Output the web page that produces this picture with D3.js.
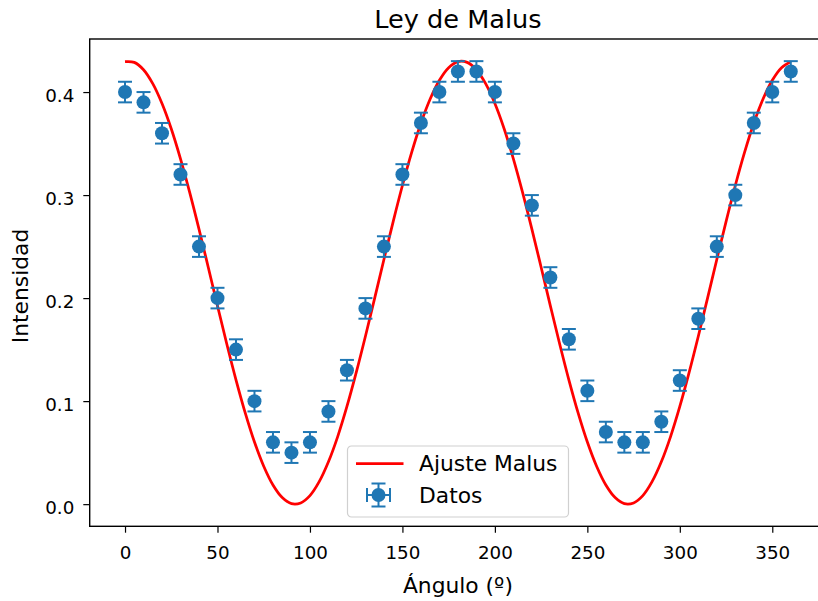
<!DOCTYPE html>
<html>
<head>
<meta charset="utf-8">
<script src="https://cdn.jsdelivr.net/npm/d3@7"></script>
<style>
  body { margin: 0; background: #fff; }
  svg { font-family: "DejaVu Sans", sans-serif; }
</style>
</head>
<body>
<div id="chart"></div>
<script>
// measured data (Datos)
const angles = [0, 10, 20, 30, 40, 50, 60, 70, 80, 90, 100, 110, 120, 130, 140, 150, 160, 170, 180,
  190, 200, 210, 220, 230, 240, 250, 260, 270, 280, 290, 300, 310, 320, 330, 340, 350, 360];
const intensities = [0.40, 0.39, 0.36, 0.32, 0.25, 0.20, 0.15, 0.10, 0.06, 0.05, 0.06, 0.09, 0.13, 0.19, 0.25, 0.32, 0.37, 0.40, 0.42,
  0.42, 0.40, 0.35, 0.29, 0.22, 0.16, 0.11, 0.07, 0.06, 0.06, 0.08, 0.12, 0.18, 0.25, 0.30, 0.37, 0.40, 0.42];
const yErr = 0.01;
const xErr = 1;

const fitAngles = d3.range(0, 361, 5);
const fitHalf = [0.4295, 0.4288, 0.4217, 0.4082, 0.3889, 0.3644, 0.3352, 0.3024, 0.2670, 0.2300,
  0.1925, 0.1557, 0.1207, 0.0886, 0.0603, 0.0368, 0.0186, 0.0064, 0.0005, 0.0012,
  0.0083, 0.0218, 0.0411, 0.0656, 0.0948, 0.1276, 0.1630, 0.2000, 0.2375, 0.2743,
  0.3093, 0.3414, 0.3697, 0.3932, 0.4114, 0.4236];
const fitValues = fitHalf.concat(fitHalf, [0.4295]);

const xTicks = [0, 50, 100, 150, 200, 250, 300, 350];
const yTicks = [0.0, 0.1, 0.2, 0.3, 0.4];

const W = 818, H = 601;
const axLeft = 89.7, axRight = 826.1, axTop = 39, axBottom = 526.3;
const blue = "#1f77b4";

const svg = d3.select("#chart").append("svg")
  .attr("width", W)
  .attr("height", H);

// matplotlib style 5% margins
const xMin = d3.min(angles) - xErr, xMax = d3.max(angles) + xErr;
const xPad = (xMax - xMin) * 0.05;
const x = d3.scaleLinear().domain([xMin - xPad, xMax + xPad]).range([axLeft, axRight]);

const yMin = 0, yMax = 0.43;
const yPad = (yMax - yMin) * 0.05;
const y = d3.scaleLinear().domain([yMin - yPad, yMax + yPad]).range([axBottom, axTop]);

// axes
const xAxis = svg.append("g")
  .attr("transform", `translate(0,${axBottom})`)
  .call(d3.axisBottom(x).tickValues(xTicks).tickSize(6.4).tickPadding(7).tickFormat(d3.format("d")));
const yAxis = svg.append("g")
  .attr("transform", `translate(${axLeft},0)`)
  .call(d3.axisLeft(y).tickValues(yTicks).tickSize(6.4).tickPadding(9).tickFormat(d3.format(".1f")));

[xAxis, yAxis].forEach(a => {
  a.select(".domain").remove();
  a.selectAll(".tick line").attr("stroke", "#000").attr("stroke-width", 1.2);
  a.selectAll(".tick text").attr("fill", "#000").style("font-size", "18.3px").style("font-family", "DejaVu Sans");
});
xAxis.selectAll(".tick text").attr("y", 33).attr("dy", 0);
yAxis.selectAll(".tick text").attr("dy", 9);

// fit line
const line = d3.line()
  .x((d, i) => x(fitAngles[i]))
  .y(d => y(d))
  .curve(d3.curveCatmullRom);

svg.append("path")
  .datum(fitValues)
  .attr("d", line)
  .attr("fill", "none")
  .attr("stroke", "red")
  .attr("stroke-width", 2.75);

// error bars
const pts = angles.map((a, i) => ({ a, v: intensities[i] }));
const eb = svg.append("g").selectAll("g").data(pts).enter().append("g");
eb.append("line")
  .attr("x1", d => x(d.a)).attr("x2", d => x(d.a))
  .attr("y1", d => y(d.v - yErr)).attr("y2", d => y(d.v + yErr))
  .attr("stroke", blue).attr("stroke-width", 2);
eb.append("line")
  .attr("x1", d => x(d.a - xErr)).attr("x2", d => x(d.a + xErr))
  .attr("y1", d => y(d.v)).attr("y2", d => y(d.v))
  .attr("stroke", blue).attr("stroke-width", 2);
[-1, 1].forEach(s => {
  eb.append("line")
    .attr("x1", d => x(d.a) - 7).attr("x2", d => x(d.a) + 7)
    .attr("y1", d => y(d.v + s * yErr)).attr("y2", d => y(d.v + s * yErr))
    .attr("stroke", blue).attr("stroke-width", 2);
});
eb.append("circle")
  .attr("cx", d => x(d.a))
  .attr("cy", d => y(d.v))
  .attr("r", 7)
  .attr("fill", blue);

// spines
svg.append("rect")
  .attr("x", axLeft).attr("y", axTop)
  .attr("width", axRight - axLeft).attr("height", axBottom - axTop)
  .attr("fill", "none")
  .attr("stroke", "#000")
  .attr("stroke-width", 1.4);

// title and labels
svg.append("text")
  .attr("x", (axLeft + axRight) / 2).attr("y", 28)
  .attr("text-anchor", "middle")
  .style("font-size", "25.6px")
  .text("Ley de Malus");

svg.append("text")
  .attr("x", (axLeft + axRight) / 2).attr("y", 593)
  .attr("text-anchor", "middle")
  .style("font-size", "21.8px")
  .text("Ángulo (º)");

svg.append("text")
  .attr("transform", "translate(28,286) rotate(-90)")
  .attr("text-anchor", "middle")
  .style("font-size", "21.8px")
  .text("Intensidad");

// legend
const lg = svg.append("g").attr("transform", "translate(347.5,446)");
lg.append("rect")
  .attr("width", 221).attr("height", 71)
  .attr("rx", 4).attr("ry", 4)
  .attr("fill", "#fff").attr("fill-opacity", 0.8)
  .attr("stroke", "#d0d0d0").attr("stroke-width", 1.2);
lg.append("line")
  .attr("x1", 8.5).attr("x2", 56).attr("y1", 17.5).attr("y2", 17.5)
  .attr("stroke", "red").attr("stroke-width", 2.75);
lg.append("text").attr("x", 71.5).attr("y", 25).style("font-size", "21.8px").text("Ajuste Malus");

const cx = 31, cy = 49;
lg.append("line").attr("x1", cx - 11.5).attr("x2", cx + 11.5).attr("y1", cy).attr("y2", cy)
  .attr("stroke", blue).attr("stroke-width", 2);
lg.append("line").attr("x1", cx).attr("x2", cx).attr("y1", cy - 11.5).attr("y2", cy + 11.5)
  .attr("stroke", blue).attr("stroke-width", 2);
[-1, 1].forEach(s => {
  lg.append("line").attr("x1", cx - 7).attr("x2", cx + 7).attr("y1", cy + s * 11.5).attr("y2", cy + s * 11.5)
    .attr("stroke", blue).attr("stroke-width", 2);
  lg.append("line").attr("x1", cx + s * 11.5).attr("x2", cx + s * 11.5).attr("y1", cy - 7).attr("y2", cy + 7)
    .attr("stroke", blue).attr("stroke-width", 2);
});
lg.append("circle").attr("cx", cx).attr("cy", cy).attr("r", 7).attr("fill", blue);
lg.append("text").attr("x", 71.5).attr("y", 57).style("font-size", "21.8px").text("Datos");
</script>
</body>
</html>
